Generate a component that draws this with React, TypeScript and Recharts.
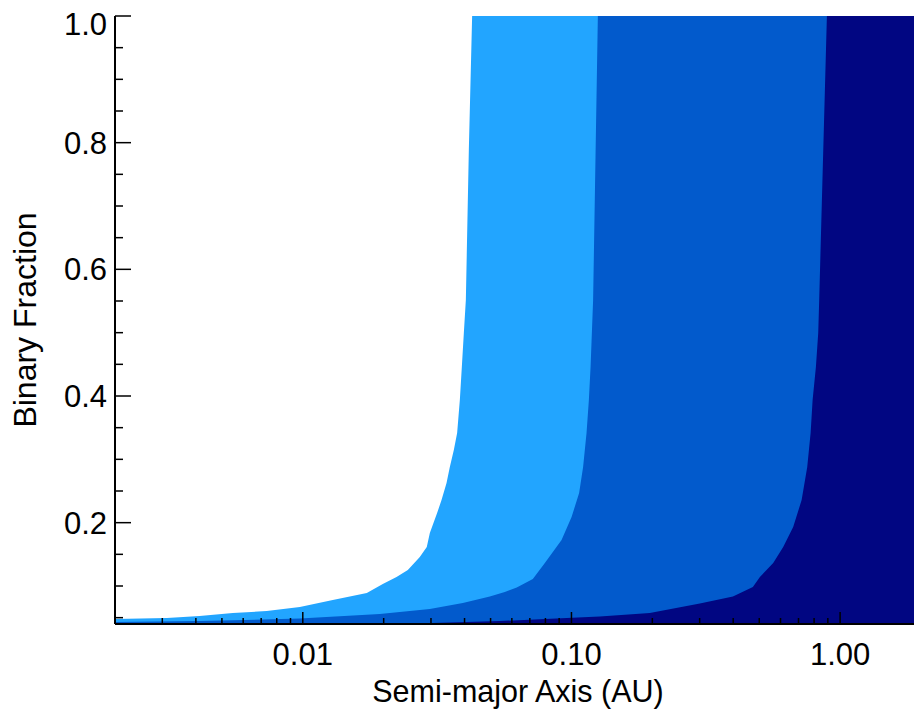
import React from 'react';
import { ComposedChart, Area, XAxis, YAxis } from 'recharts';

// Boundary of the light-blue region (semi-major axis in AU, binary fraction)
const lightA = [0.002, 0.00312, 0.00413, 0.00549, 0.00734, 0.00975, 0.01293, 0.01731, 0.01985, 0.02233, 0.0246, 0.02726, 0.02894, 0.02971, 0.03162, 0.03284, 0.03428, 0.03526, 0.03649, 0.03754, 0.03842, 0.03908, 0.03976, 0.04045, 0.0415, 0.04269, 2];
const lightF = [0.0478, 0.0494, 0.0526, 0.0573, 0.0604, 0.0668, 0.0778, 0.0889, 0.1031, 0.1142, 0.1252, 0.1457, 0.1615, 0.1836, 0.2152, 0.2357, 0.2626, 0.2879, 0.3147, 0.3415, 0.3937, 0.4458, 0.4995, 0.5516, 0.7884, 1.0, 1.0];

// Boundary of the medium-blue region
const mediumA = [0.002, 0.00413, 0.00975, 0.01935, 0.02971, 0.03942, 0.04968, 0.05649, 0.06259, 0.07182, 0.07961, 0.09187, 0.1001, 0.1068, 0.1105, 0.1138, 0.1161, 0.1178, 0.1204, 0.1254, 2];
const mediumF = [0.0431, 0.0447, 0.0486, 0.0557, 0.0636, 0.0731, 0.0834, 0.0905, 0.0976, 0.111, 0.1363, 0.1726, 0.2089, 0.2468, 0.2879, 0.3415, 0.3937, 0.4458, 0.5516, 1.0, 1.0];

// Boundary of the dark-navy region
const darkA = [0.002, 0.01731, 0.03048, 0.05413, 0.09614, 0.1276, 0.1958, 0.3006, 0.3991, 0.4734, 0.5028, 0.5636, 0.614, 0.6688, 0.719, 0.7544, 0.7766, 0.79, 0.8126, 0.8289, 0.8359, 0.8929, 2];
const darkF = [0.04, 0.0415, 0.0415, 0.0447, 0.0494, 0.0518, 0.0573, 0.0723, 0.0834, 0.0984, 0.1142, 0.1363, 0.1615, 0.1931, 0.2357, 0.2879, 0.3415, 0.3937, 0.4458, 0.4995, 0.5516, 1.0, 1.0];

const xTicks = [0.002, 0.003, 0.004, 0.005, 0.006, 0.007, 0.008, 0.009, 0.01, 0.02, 0.03, 0.04, 0.05, 0.06, 0.07, 0.08, 0.09, 0.1, 0.2, 0.3, 0.4, 0.5, 0.6, 0.7, 0.8, 0.9, 1, 2];
const xMajor = [0.01, 0.1, 1];
const xTickLabels = ['0.01', '0.10', '1.00'];

const yTicks = [0.05, 0.1, 0.15, 0.2, 0.25, 0.3, 0.35, 0.4, 0.45, 0.5, 0.55, 0.6, 0.65, 0.7, 0.75, 0.8, 0.85, 0.9, 0.95, 1.0];
const yMajor = [0.2, 0.4, 0.6, 0.8, 1.0];
const yTickLabels = ['0.2', '0.4', '0.6', '0.8', '1.0'];

const xTitle = 'Semi-major Axis (AU)';
const yTitle = 'Binary Fraction';

const COLORS = { light: '#22A5FF', medium: '#025ACC', dark: '#010682' };
const FONT = '"Liberation Sans", Arial, Helvetica, sans-serif';

const zip = (a: number[], f: number[]) => a.map((v, i) => ({ a: v, f: f[i] }));
const lightData = zip(lightA, lightF);
const mediumData = zip(mediumA, mediumF);
const darkData = zip(darkA, darkF);

const findIdx = (arr: number[], v: number) => arr.findIndex((m) => Math.abs(m - v) < 1e-9);

const BottomTick = (props: any) => {
  const { x, y, payload } = props;
  const idx = findIdx(xMajor, payload.value);
  const len = idx >= 0 ? 12 : 6;
  return (
    <g>
      <line x1={x} x2={x} y1={y} y2={y - len} stroke="#000" strokeWidth={1.5} />
      {idx >= 0 && (
        <text x={x} y={y + 41} textAnchor="middle" fontSize={31} fontFamily={FONT} fill="#000">
          {xTickLabels[idx]}
        </text>
      )}
    </g>
  );
};

const TopTick = (props: any) => {
  const { x, y, payload } = props;
  const idx = findIdx(xMajor, payload.value);
  const len = idx >= 0 ? 12 : 6;
  return <line x1={x} x2={x} y1={y} y2={y + len} stroke="#000" strokeWidth={1.5} />;
};

const LeftTick = (props: any) => {
  const { x, y, payload } = props;
  const idx = findIdx(yMajor, payload.value);
  const len = idx >= 0 ? 16 : 8;
  const isTop = Math.abs(payload.value - 1.0) < 1e-9;
  return (
    <g>
      <line x1={x} x2={x + len} y1={y} y2={y} stroke="#000" strokeWidth={1.5} />
      {idx >= 0 && (
        <text x={x - 8} y={y + (isTop ? 19 : 11)} textAnchor="end" fontSize={31} fontFamily={FONT} fill="#000">
          {yTickLabels[idx]}
        </text>
      )}
    </g>
  );
};

const RightTick = (props: any) => {
  const { x, y, payload } = props;
  const idx = findIdx(yMajor, payload.value);
  const len = idx >= 0 ? 16 : 8;
  return <line x1={x} x2={x - len} y1={y} y2={y} stroke="#000" strokeWidth={1.5} />;
};

const XTitle = (props: any) => {
  const vb = props.viewBox || { x: 115, y: 624, width: 806, height: 85 };
  return (
    <text x={vb.x + vb.width / 2} y={702} textAnchor="middle" fontSize={30.5} fontFamily={FONT} fill="#000">
      {xTitle}
    </text>
  );
};

const YTitle = (props: any) => {
  const vb = props.viewBox || { x: 0, y: 16, width: 115, height: 608 };
  const cy = vb.y + vb.height / 2;
  const cx = 36;
  return (
    <text x={cx} y={cy} textAnchor="middle" fontSize={32} fontFamily={FONT} fill="#000" transform={`rotate(-90, ${cx}, ${cy})`}>
      {yTitle}
    </text>
  );
};

export default function App() {
  return (
    <div style={{ position: 'absolute', left: 0, top: 0, width: 914, height: 709, overflow: 'hidden', background: '#fff' }}>
      <ComposedChart width={940} height={709} margin={{ top: 16, right: 19, bottom: 0, left: 0 }}>
        <Area data={lightData} dataKey="f" xAxisId="bottom" yAxisId="left" type="linear" stroke="none" fill={COLORS.light} fillOpacity={1} baseValue={0.04} dot={false} activeDot={false} isAnimationActive={false} />
        <Area data={mediumData} dataKey="f" xAxisId="bottom" yAxisId="left" type="linear" stroke="none" fill={COLORS.medium} fillOpacity={1} baseValue={0.04} dot={false} activeDot={false} isAnimationActive={false} />
        <Area data={darkData} dataKey="f" xAxisId="bottom" yAxisId="left" type="linear" stroke="none" fill={COLORS.dark} fillOpacity={1} baseValue={0.04} dot={false} activeDot={false} isAnimationActive={false} />
        <XAxis xAxisId="bottom" dataKey="a" type="number" scale="log" domain={[0.002, 2]} allowDataOverflow ticks={xTicks} interval={0} orientation="bottom" height={85} tickSize={0} tickMargin={0} tickLine={false} tick={<BottomTick />} axisLine={{ stroke: '#000', strokeWidth: 2 }} label={<XTitle />} />
        <XAxis xAxisId="top" dataKey="a" type="number" scale="log" domain={[0.002, 2]} allowDataOverflow ticks={xTicks} interval={0} orientation="top" height={0} tickSize={0} tickMargin={0} tickLine={false} tick={<TopTick />} axisLine={{ stroke: '#000', strokeWidth: 2 }} />
        <YAxis yAxisId="left" type="number" domain={[0.04, 1.0]} allowDataOverflow ticks={yTicks} interval={0} orientation="left" width={115} tickSize={0} tickMargin={0} tickLine={false} tick={<LeftTick />} axisLine={{ stroke: '#000', strokeWidth: 2 }} label={<YTitle />} />
        <YAxis yAxisId="right" type="number" domain={[0.04, 1.0]} allowDataOverflow ticks={yTicks} interval={0} orientation="right" width={0} tickSize={0} tickMargin={0} tickLine={false} tick={<RightTick />} axisLine={{ stroke: '#000', strokeWidth: 2 }} />
      </ComposedChart>
    </div>
  );
}
